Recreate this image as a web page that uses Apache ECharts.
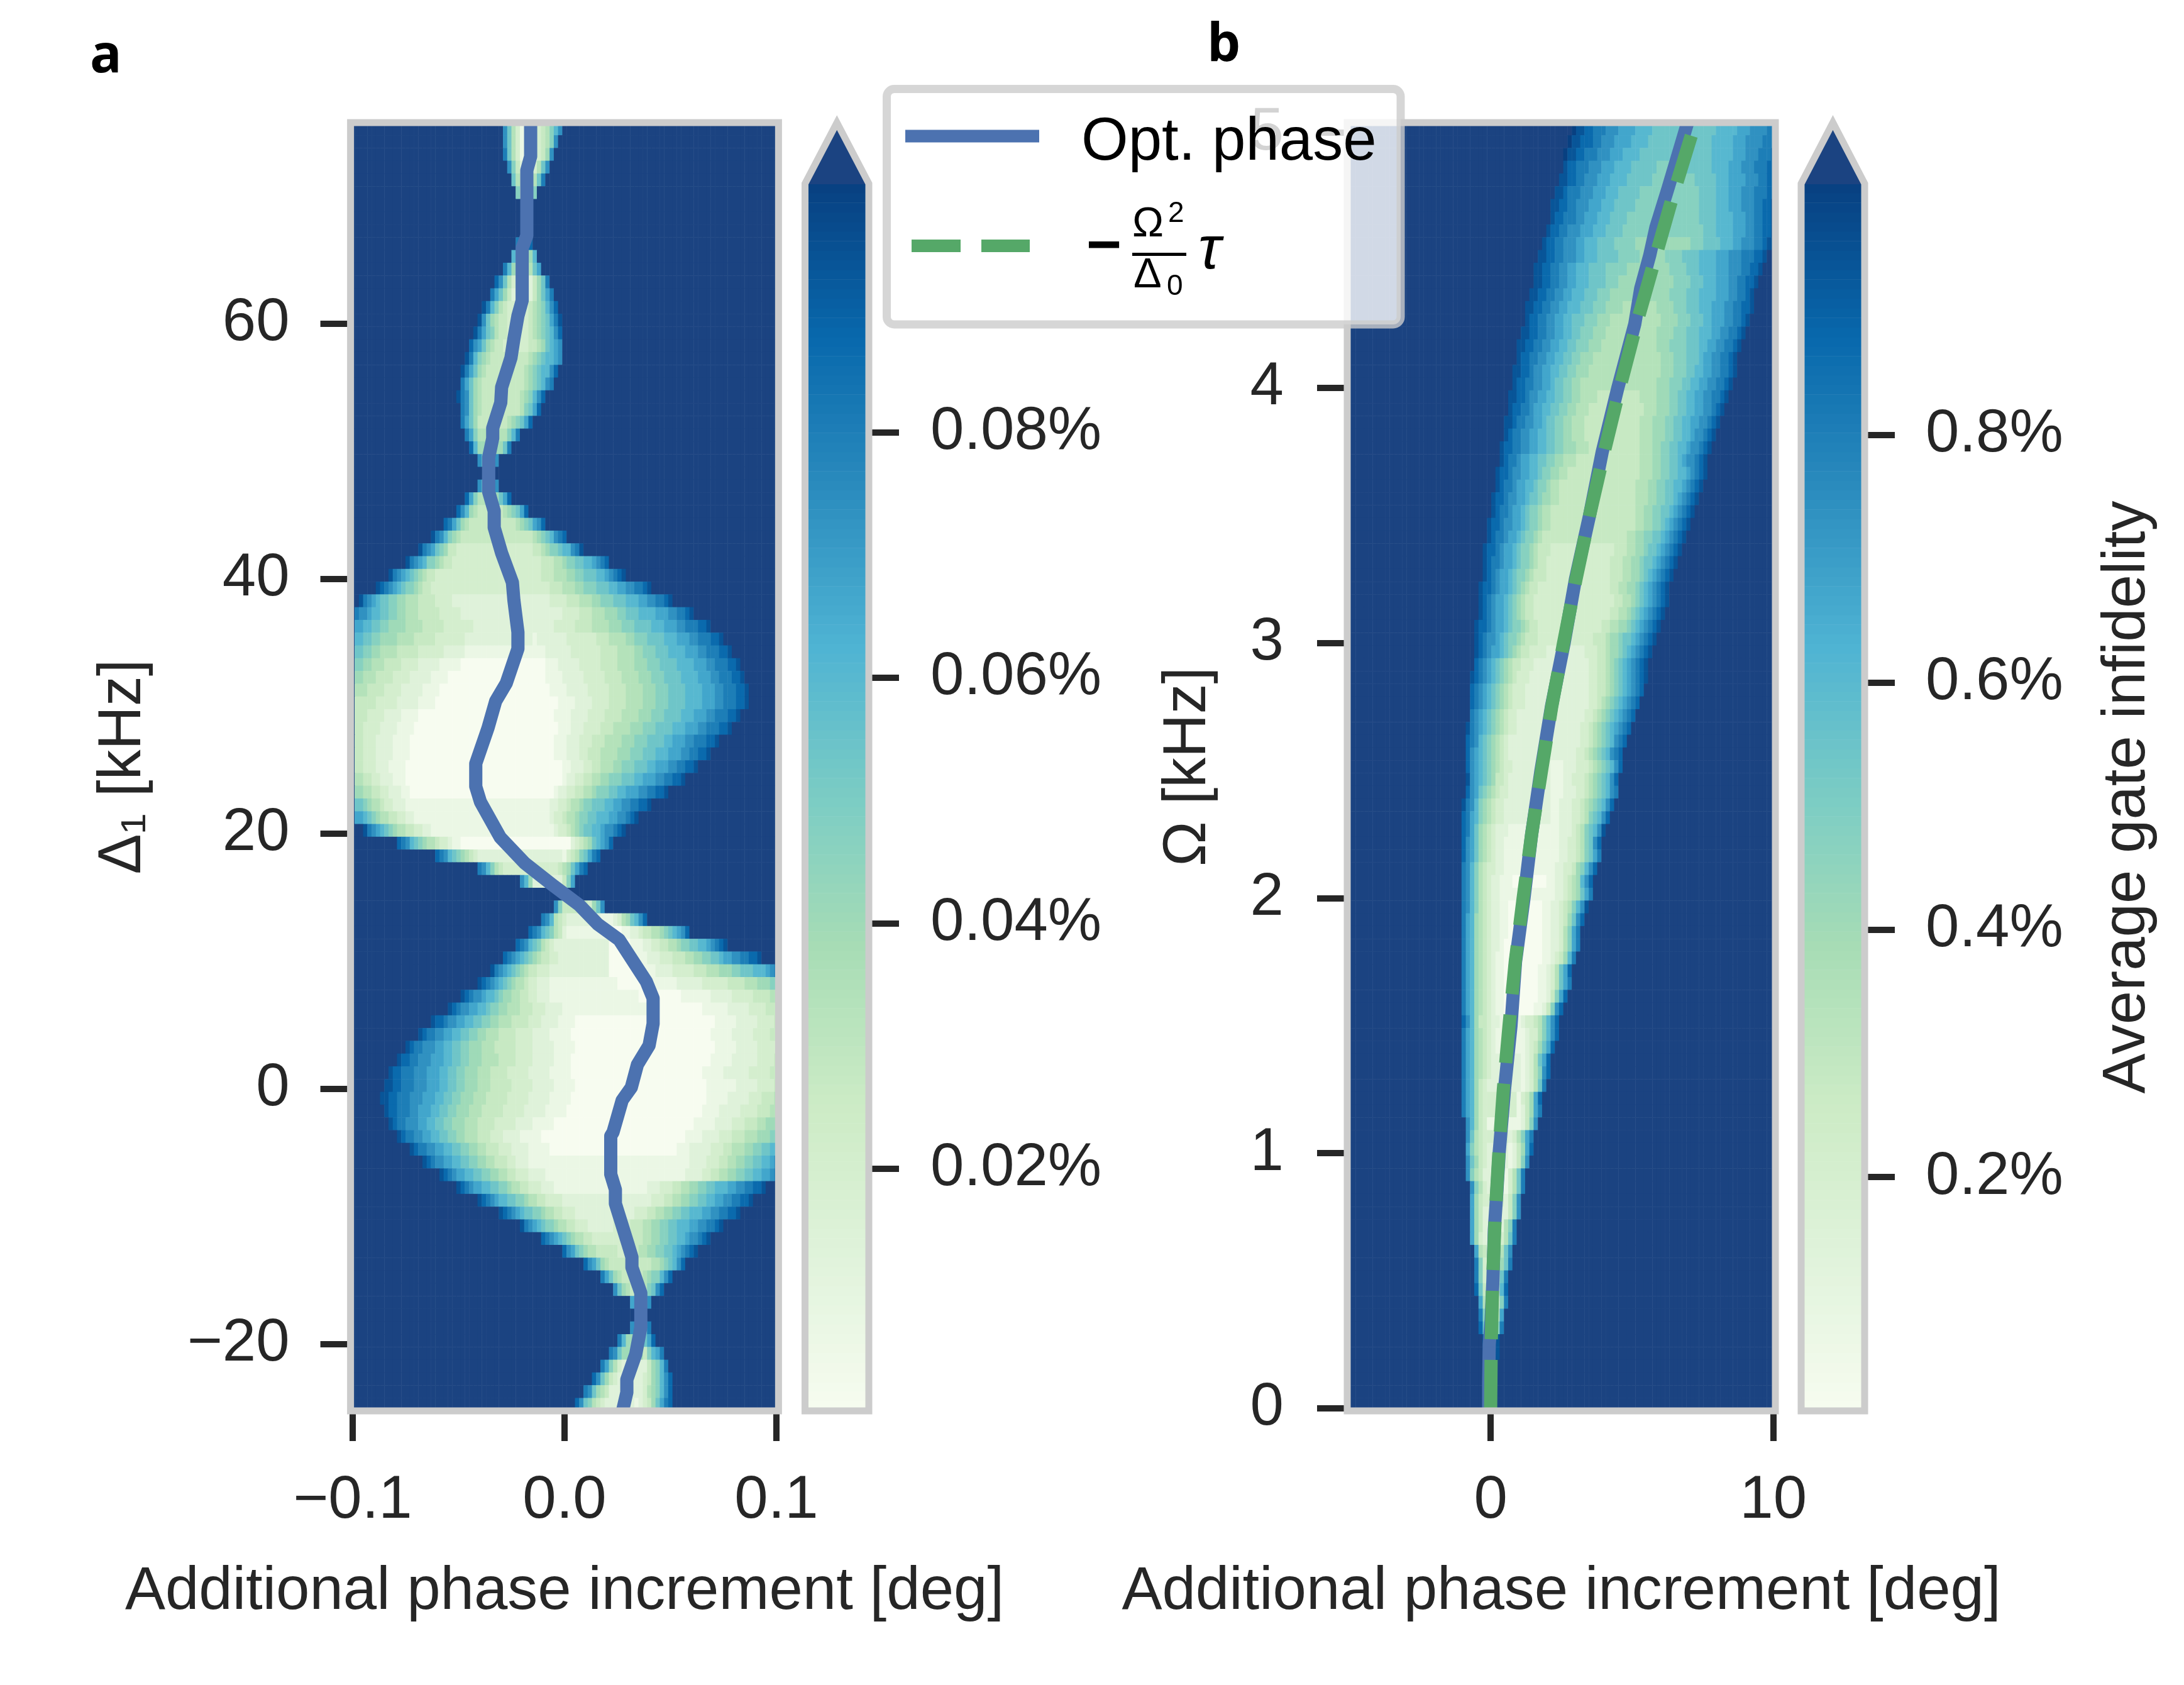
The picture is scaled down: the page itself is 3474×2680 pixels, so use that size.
<!DOCTYPE html>
<html>
<head>
<meta charset="utf-8">
<title>Average gate infidelity</title>
<script src="https://cdn.jsdelivr.net/npm/echarts@6/dist/echarts.min.js"></script>
<style>
html, body { margin: 0; padding: 0; background: #fff; }
#chart { width: 3474px; height: 2680px; }
</style>
</head>
<body>
<div id="chart"></div>
<script>
// colour ramp and saturated colour of the two colorbars
var rampColors = ['#f7fcf0', '#e0f3db', '#ccebc5', '#a8ddb5', '#7bccc4', '#4eb3d3', '#2b8cbe', '#0868ac', '#084081'];
var overColor = '#1b4381';

// panel a: Delta_1 rows -25..75 kHz, phase columns -0.1..0.1 deg in 101 steps
var aScaleMin = 0, aScaleMax = 0.1;
// each row, from the top: first column, last column, levels (hex, 0-f of the scale) read
// inwards from the left edge, levels up to the right edge; the plateau between repeats the left end
var aRows = [
[36,49,'b8531','134579b'],[36,48,'b8531','13457b'],[36,47,'c8531','1346b'],[37,46,'b7421','2358b'],[38,45,'8531','258c'],
[39,43,'73','47'],null,null,null,[39,42,'c8','8d'],[38,43,'96','369'],[36,44,'c963','358a'],[34,46,'db8531','2468c'],
[33,47,'ca8642','2468ac'],[31,48,'ec97543','345679bd'],[30,49,'eb865443','3345678ace'],[29,49,'eca875443','33456789bd'],
[28,49,'dba8654433','33445689ab'],[27,49,'ec976544','444567899ab'],[26,48,'eca86544','44567899bd'],[26,47,'ca865444','4456789bc'],
[25,45,'ecb865444','45679bd'],[26,44,'cb8654','4578ad'],[26,42,'ca864','5678ad'],[27,39,'ca75','579c'],[28,37,'d96','68c'],
[30,34,'b8','8b'],null,[30,34,'b8','8b'],[27,37,'da75','68ad'],[25,41,'db9654','5678ad'],[22,45,'dca86544','45678abd'],
[19,50,'ecb976544','4456789bcd'],[16,54,'ecba8764433','3445677899bce'],[13,60,'ecba97765443','3444556778899abcd'],
[9,64,'ecba98765443','33444555667788899abcde'],[6,70,'edcba9877654433','33334445556677788899aabbccde'],
[2,75,'ecba988776655544443333222','222333344455566777888999aabbccde'],
[1,80,'cbba9988776655544444333332222','2222223333444555666778889999aaabbccde'],
[1,84,'aa99887766665555444443333333222','2222233333444455556667778888999aaabbcccdde'],
[1,87,'998877666655554444433333332222222','1222222233333334445555667778888999aaabbcccdde'],
[1,89,'887766555544444333333222221111','1111222222333333344445555667778889999aaabbcccdde'],
[1,91,'77665554444333322222111110','11122222333334444555566677788889999aaabbcccdde'],
[1,92,'66555444433332222211110','111122222333334444555566677788889999aaabbcccdde'],
[1,93,'5554444333322222111100','0111122222333334444555566677788889999aaabbcccdde'],
[1,93,'4444433333222221111000','01111222233334444555566677788889999aaabbcccdde'],
[1,91,'4443333222211110000','0111122223333444455556667778888999aaabbcccdde'],
[1,89,'4433332222111100000','00111222333344455556667778888999aaabbcccdde'],
[1,86,'4433322221111000','01112223334445555666777888899aaabbcccdde'],
[1,84,'443332222111100','0111222334445555666777888999aaabbccdde'],
[1,81,'4433322211110','01122233445556677788899aaabbccdde'],
[1,78,'55443322211100','01223344556677788899aaabbccdde'],
[1,74,'665544332221100','12233445567778899aaabbccdde'],
[1,70,'88765543322211','1223345567788899aabbccdde'],
[1,67,'aa987655443322111','23345567788999aabbcde'],
[3,64,'ecba98765544332211','23345678899abbcde'],
[11,61,'dcb9876554332110','2345689abd'],
[20,58,'dcb98765432','134578acd'],
[30,55,'cb97543','34568acd'],
[40,52,'b962','47a'],null,[48,59,'b74','368b'],
[45,69,'cb95432','111235689bd'],
[42,79,'dcb9875421','0001122344556789abd'],
[39,88,'dcb98754322','00000111223344556778899abcde'],
[36,96,'dcba9876544332','000000111222333444556677889aabbccdde'],
[33,100,'ecba98765443332','0000000111122223333344455566677888999abc'],
[30,100,'edcba98765543322211','00000000111111222222333333444455566677'],
[26,100,'edcbba9987665544332221111','000000000011111112222233333444455'],
[23,100,'edcbbaa998776655544433322221111','0000000000111111222223333444'],
[19,100,'eddcbbaa9988776655544443332222111100','0000000000111112222233334'],
[16,100,'edccbbaa99887766555444433332222111110','000000001111122222333344'],
[13,100,'edccbbbaa99887766655544444333322222111110','0000000111112222233333'],
[11,100,'eddccbbbaaa9988776665555444433332222211110','000001111122222233334'],
[9,100,'eddcccbbbaaa99887766655544443333322222111110','000111112222223333344'],
[8,100,'eeddcccbbbaaa9988776665554444433333222221111100','0000011111112222233334'],
[7,100,'eeddcccbbbaaa9988776665554444433333222221111100','00000011111222223334445'],
[8,100,'eddcccbbaaa998877666555444443333322222111110','0000111122222333344455'],
[9,100,'edccbbbaa99887766655544443333322221111100','00011111222233344455666'],
[11,100,'edccbbaa998877665554443332222111110','0001111222233344455566677'],
[14,100,'edccbbaa99887766554443332222111110','111222223334455566778899'],
[17,100,'edcbbaa9988776655444332221111','1112222333445566778899ab'],
[21,100,'edcbaa99887766554433322221111','11222233445566778899aabc'],
[25,97,'edcbaa9988776554433322211','112223334455667788999aabbccdde'],
[30,94,'edcba99887765544333322','2222333445566778899aabbccdde'],
[35,91,'edcba9887765544333222','2223334455667788999aabbccdde'],
[40,87,'ecba9877655443332','333344455667788999aabbccde'],
[45,84,'dcba98765544333','3334445566778899abbcde'],
[50,81,'dba87655444','33344556677889abcde'],
[55,78,'dba8654','44556789bd'],
[59,75,'ca8654','456779bd'],
[62,73,'b8654','578bd'],
[66,70,'a7','7b'],null,[66,70,'b7','8c'],[63,71,'c96','58ad'],[61,73,'cb86','479ac'],[59,74,'ca7532','4679c'],
[57,75,'db86432','34679bd'],[55,75,'cb86542','235679bd'],[53,75,'db8754322','123468acd']
];
var aOptPhase = [-0.016,-0.016,-0.0178,-0.0178,-0.02,-0.02,-0.022,-0.0239,-0.0253,-0.0297,-0.0301,-0.0339,-0.0339,-0.0358,-0.0358,-0.0332,-0.0332,-0.0297,-0.0246,-0.0239,
  -0.022,-0.022,-0.0275,-0.0325,-0.0361,-0.0419,-0.0419,-0.0397,-0.0303,-0.0188,-0.0058,0.007,0.0157,0.0257,0.0386,0.0418,0.0418,0.0399,0.0344,0.0315,0.0272,0.0229,
  0.0218,0.0218,0.024,0.024,0.03,0.0318,0.0318,0.036,0.036,0.0336,0.0294,0.0294,0.0273];
var aOptDelta = [75.8,73.1,72,66.9,65.9,61.8,60.6,58.8,57.3,55,53.8,51.8,51,49.5,46.8,45.3,44,42,39.7,38.3,
  35.8,34.5,31.8,30.4,28.3,25.5,23.7,22.5,19.7,17.7,16,14.4,12.9,11.7,8.4,7.1,5.1,3.4,1.9,0.1,-0.9,-3.4,
  -3.7,-6.7,-7.9,-9,-12.2,-13.2,-14,-16,-18.7,-20.8,-22.8,-23.8,-25.3];

// panel b: Omega rows 0..5 kHz, phase columns -5..10 deg in 101 steps
var bScaleMin = 0.0076, bScaleMax = 1;
var bRows = [
[53,100,'feeddcccbbbaaaa9999888888','888888899999aaabbbbcc'],[52,100,'feedddccbbbaaaa9999888888','88888899999aaabbbbccc'],
[51,100,'feeddcccbbbaaa9999888888','88888899999aaabbbcccd'],[51,100,'eddcccbbbaaa99998888887','8888889999aaabbbcccdd'],
[50,100,'eeddccbbbaaa9999888888777','7788888999aaaabbbccdd'],[49,100,'eedcccbbbaaa99988888777777','7778888999aaabbbcccdd'],
[48,100,'eeddccbbbaaa999888887777777','7778888999aaabbbccdde'],[48,100,'eddcccbbaaa9998888777777','77788889999aaabbccdde'],
[47,100,'eddccbbbaaa9998888777777','77778889999aaabbccdde'],[46,100,'eddccbbbaa999888877777666','667778888999aabbbccdee'],
[45,98,'eeddccbbbaa9998888877777666','6666777788889999aaabbbcccdde'],[44,97,'eeddccbbaa9998888777776666','66677778889999aaabbbccdde'],
[44,96,'eeddccbbaa999888877766666','6667777888999aaabbccdde'],[43,95,'eeddccbbaa99988877766666','66677778889999aaabbccde'],
[42,95,'eeddccbbaa9998887776666555','6666777888999aaabbccdde'],[42,94,'eddccbbaa998887776665555','5666677788899aaabbccde'],
[41,93,'eeddccbbaa998877766655555','56666777888999aabbccde'],[40,92,'eeddccbbaa99887776665555','55666777788899aabbccde'],
[40,91,'eddccbbaa9988776665555','5556667778889aabbccde'],[39,91,'eeddcbbaa99887766655555','5556667778899aabbccde'],
[39,90,'eddccbbaa9887766555555','5556667778899aabbccde'],[38,89,'eeddcbbaa99887766555544','5555666778899aabbccde'],
[38,88,'eddccbaa99887766555444','4555666778899aabbcde'],[37,87,'eedccbbaa9887766555444','4555666778899aabbcde'],
[37,86,'edccbbaa998877665554444','4555666778899abbcde'],[36,85,'eddccbbaa9988776665554444','4455566778899abbcde'],
[36,84,'edccbaa99887766555444','4445556677889abbcde'],[35,84,'eddcbbaa998776655444','44455566778899abcde'],
[35,83,'edccbaa99877655444','44455566778899abcde'],[34,82,'eddcbbaa9887665544444','4445556677889abcde'],
[34,81,'edccbaa987765544444','444556677889abcde'],[33,80,'eddcbbaa987765544444','444455667789abcde'],
[33,79,'edccbaa98776544444','444556677889abcde'],[32,78,'eddcbaa98776544433','3344455667889abcde'],
[32,77,'edccbaa9877654433','344455667889abcde'],[32,76,'edcbaa987765444333','34445566789abcde'],
[31,75,'eddcbaa98765443333','33445566789abcde'],[31,75,'edcbaa98765443333','33344556789abcde'],
[31,74,'edcbaa9876544333','33344556789abcde'],[30,73,'eddcbaa9877654433333','33445566789abcde'],
[30,72,'edcbba98776544433333','3334445667889abcde'],[30,71,'edcbaa9876544333322','33344566789abcde'],
[30,70,'dcba9876544333222','2334456789abcde'],[29,70,'edcba9876543332222','22334456789abcde'],
[29,69,'dcba987654333222','22334456789abcd'],[29,68,'dcba98765433322','2233456789abcd'],
[29,67,'cba9876543322222','2233456789abcd'],[28,66,'ecba98765433222','22233456789abcd'],
[28,65,'dcb98765432222','22233456789bcd'],[28,64,'dba9876543222','22233456789bcd'],
[28,64,'dba98765433222','111222333456789bd'],[28,63,'eba9876443222','11122333456789bd'],
[28,63,'dba8765433222','11122233456789bc'],[27,62,'ecb9765433222','1122233456789bd'],
[27,61,'dca9765433222','112223345789bd'],[27,60,'dca8654322211','11222345789be'],
[27,59,'dba8654322111','1122334578bd'],[27,59,'dba8654322111','1122334578ac'],
[27,58,'cb97543322111','1122334679bd'],[27,57,'cb97543221110','112234569bd'],
[27,57,'cb9754322111','112234568ac'],[27,56,'cb9754322110','112234579be'],
[27,55,'ca9654322110','11223468bd'],[27,54,'ca9654322110','1122357ac'],
[27,54,'ca9654322100','1122357ac'],[27,53,'ca9654321100','1123469c'],
[27,52,'ca9654321100','112358ad'],[27,52,'ca965432110','112358ac'],
[27,51,'ca965432110','11247ad'],[27,50,'ca965432110','11247bd'],
[27,49,'db96443221','1012334579bd'],[27,49,'ca9654321','1233579bd'],
[27,48,'ca9654321','123468ad'],[27,47,'ca965432','12358ad'],[27,47,'ca965432','12357bd'],
[27,46,'ca96432','12358c'],[27,45,'ca9643','1346ad'],[27,45,'ca9643','1246ac'],
[28,44,'b96431','1247b'],[28,43,'b8543','2357ac'],[28,43,'a75432','1246ad'],[28,42,'b86432','1247b'],
[28,41,'b7542','1358c'],[29,41,'b7532','1358c'],[29,40,'a643','247b'],[29,40,'a642','247b'],
[29,39,'a642','257c'],[29,39,'a632','358c'],[30,38,'a542','258b'],[30,38,'c73','368c'],
[30,37,'c73','38c'],[30,37,'d84','49d'],[31,37,'a5','47c'],[31,36,'c7','5a'],[31,36,'d8','7c'],
[32,35,'d9','9e'],[32,35,'e','ae'],null,null,null,null
];
var bOmega = [0,0.1,0.25,0.35,0.5,0.7,0.85,1,1.25,1.5,1.75,2,2.25,2.5,2.75,3,3.25,3.5,3.75,4,4.25,4.39,4.52,4.63,4.78,5.04];
var bOptPhase = [-0.07,-0.07,-0.05,0.02,0.08,0.13,0.22,0.3,0.49,0.72,0.88,1.18,1.45,1.78,2.15,2.6,3,3.5,3.95,4.5,5.1,5.31,5.63,5.85,6.27,6.97];
var bFormulaOmega = [0,0.25,0.5,0.75,1,1.25,1.5,1.75,2,2.25,2.5,2.75,3,3.25,3.5,3.75,4,4.25,4.5,4.75,5];
var bFormulaPhase = [0,0.02,0.07,0.16,0.29,0.45,0.65,0.87,1.15,1.45,1.8,2.16,2.58,3.02,3.5,4.02,4.57,5.16,5.8,6.44,7.13];

var aXTicks = [-0.1, 0, 0.1], aYTicks = [-20, 0, 20, 40, 60];
var bXTicks = [0, 10], bYTicks = [0, 1, 2, 3, 4, 5];
var aBarTicks = [0.02, 0.04, 0.06, 0.08], bBarTicks = [0.2, 0.4, 0.6, 0.8];
var xTitle = 'Additional phase increment [deg]';

var textColor = '#262626', spineColor = '#cccccc';
var fontFamily = '"Liberation Sans", Arial, sans-serif';
var nCols = 101, nBar = 128;

// the colour scale runs one ramp step past vmax, where the saturated colour sits
function overValue(vmin, vmax) {
    return vmin + (vmax - vmin) * 1.125;
}
// turn typed rows into heatmap cells, anything outside the band is saturated
function buildCells(rows, vmin, vmax) {
    var out = [];
    var over = overValue(vmin, vmax);
    function val(ch) { return vmin + parseInt(ch, 16) / 15 * (vmax - vmin); }
    for (var i = 0; i < rows.length; i++) {
        var yi = rows.length - 1 - i;
        var r = rows[i];
        var line = [];
        for (var c = 0; c < nCols; c++) line.push(over);
        if (r) {
            var plateau = val(r[2].charAt(r[2].length - 1));
            for (var c2 = r[0]; c2 <= r[1]; c2++) line[c2] = plateau;
            for (var k = 0; k < r[3].length; k++) line[r[1] - r[3].length + 1 + k] = val(r[3].charAt(k));
            for (var j = 0; j < r[2].length; j++) line[r[0] + j] = val(r[2].charAt(j));
        }
        for (var c3 = 0; c3 < nCols; c3++) out.push([c3, yi, line[c3]]);
    }
    return out;
}
function indexList(n) {
    var l = [];
    for (var i = 0; i < n; i++) l.push(i);
    return l;
}
function barCells(vmin, vmax) {
    var l = [];
    for (var i = 0; i < nBar; i++) l.push([0, i, vmin + (i + 0.5) / nBar * (vmax - vmin)]);
    return l;
}
function pairs(xs, ys) {
    return xs.map(function (x, i) { return [x, ys[i]]; });
}
function minusFmt(dec) {
    return function (v) { return Number(v).toFixed(dec).replace('-', '\u2212'); };
}
function hiddenCat(n, gridIndex) {
    return { type: 'category', gridIndex: gridIndex, data: indexList(n), show: false };
}
function valueAxis(o) {
    var ax = {
        type: 'value',
        gridIndex: o.grid,
        position: o.pos,
        min: o.min,
        max: o.max,
        splitLine: { show: false },
        axisLine: { show: false },
        axisTick: { show: true, customValues: o.ticks, length: 48, lineStyle: { color: textColor, width: 10 } },
        axisLabel: { show: true, customValues: o.ticks, margin: o.margin, color: textColor, fontSize: 96, fontFamily: fontFamily, formatter: o.fmt }
    };
    if (o.name) {
        ax.name = o.name;
        ax.nameLocation = 'middle';
        ax.nameGap = o.gap;
        ax.nameMoveOverlap = false;
        ax.nameTextStyle = { color: textColor, fontSize: 96, fontFamily: fontFamily };
        if (o.rotate !== undefined) ax.nameRotate = o.rotate;
    }
    return ax;
}

var grids = [
    { left: 557.6, width: 680.8, top: 195, height: 2049 },
    { left: 1280.5, width: 101.5, top: 292, height: 1952 },
    { left: 2143, width: 681, top: 195, height: 2049 },
    { left: 2865, width: 101, top: 292, height: 1952 }
];

var xAxes = [
    hiddenCat(nCols, 0),
    valueAxis({ grid: 0, pos: 'bottom', min: -0.101, max: 0.101, ticks: aXTicks, margin: 96, fmt: minusFmt(1), name: xTitle, gap: 241 }),
    hiddenCat(1, 1),
    hiddenCat(nCols, 2),
    valueAxis({ grid: 2, pos: 'bottom', min: -5.075, max: 10.075, ticks: bXTicks, margin: 96, fmt: minusFmt(0), name: xTitle, gap: 241 }),
    hiddenCat(1, 3)
];
var yAxes = [
    hiddenCat(aRows.length, 0),
    valueAxis({ grid: 0, pos: 'left', min: -25.25, max: 75.75, ticks: aYTicks, margin: 97, fmt: minusFmt(0), name: '\u0394\u2081 [kHz]', gap: 313, rotate: 90 }),
    hiddenCat(nBar, 1),
    valueAxis({ grid: 1, pos: 'right', min: 0.00026, max: 0.10026, ticks: aBarTicks, margin: 98, fmt: function (v) { return v.toFixed(2) + '%'; } }),
    hiddenCat(bRows.length, 2),
    valueAxis({ grid: 2, pos: 'left', min: -0.01, max: 5.04, ticks: bYTicks, margin: 101, fmt: minusFmt(0), name: '\u03a9 [kHz]', gap: 204, rotate: 90 }),
    hiddenCat(nBar, 3),
    valueAxis({ grid: 3, pos: 'right', min: 0.0109, max: 1.0033, ticks: bBarTicks, margin: 97, fmt: function (v) { return v.toFixed(1) + '%'; }, name: 'Average gate infidelity', gap: 371, rotate: 90 })
];

function heat(xi, yi, data) {
    return { type: 'heatmap', xAxisIndex: xi, yAxisIndex: yi, data: data, progressive: 0, emphasis: { disabled: true }, z: 1 };
}
function curve(name, xi, yi, data, color, width, dash) {
    return {
        name: name, type: 'line', xAxisIndex: xi, yAxisIndex: yi, data: data,
        showSymbol: false, smooth: false, z: 3, silent: true,
        lineStyle: { color: color, width: width, type: dash || 'solid', cap: 'butt', join: 'round' }
    };
}

var series = [
    heat(0, 0, buildCells(aRows, aScaleMin, aScaleMax)),
    heat(2, 2, barCells(aScaleMin, aScaleMax)),
    heat(3, 4, buildCells(bRows, bScaleMin, bScaleMax)),
    heat(5, 6, barCells(bScaleMin, bScaleMax)),
    curve('Opt. phase', 1, 1, pairs(aOptPhase, aOptDelta), '#4c72b0', 21),
    curve('Opt. phase', 4, 5, pairs(bOptPhase, bOmega), '#4c72b0', 21),
    curve('formula', 4, 5, pairs(bFormulaPhase, bFormulaOmega), '#55a868', 21, [77, 33])
];

// spines, colorbar arrows, panel letters and the legend box sit on top of the plots
function frame(g) {
    return { type: 'rect', z: 50, silent: true, shape: { x: g.left, y: g.top, width: g.width, height: g.height }, style: { fill: 'none', stroke: spineColor, lineWidth: 11 } };
}
function arrow(g, tipY) {
    var l = g.left, r = g.left + g.width, m = g.left + g.width / 2, b = g.top + g.height, t = g.top;
    return [
        { type: 'polygon', z: 49, silent: true, shape: { points: [[l, t + 1], [m, tipY], [r, t + 1]] }, style: { fill: overColor } },
        { type: 'polygon', z: 50, silent: true, shape: { points: [[l, b], [l, t], [m, tipY], [r, t], [r, b]] }, style: { fill: 'none', stroke: spineColor, lineWidth: 11, lineJoin: 'miter', miterLimit: 10 } }
    ];
}
function label(text, x, y, size, extra) {
    var st = { text: text, x: x, y: y, fill: '#000', font: (extra || '') + ' ' + size + 'px ' + fontFamily, textAlign: 'left', textVerticalAlign: 'middle' };
    return { type: 'text', z: 62, silent: true, style: st };
}
var graphics = [frame(grids[0]), frame(grids[2])]
    .concat(arrow(grids[1], 195), arrow(grids[3], 195))
    .concat([
        { type: 'text', z: 62, silent: true, style: { text: 'a', x: 143, y: 91, fill: '#000', font: 'bold 84px "Open Sans", "Noto Sans", sans-serif', textVerticalAlign: 'middle' } },
        { type: 'text', z: 62, silent: true, style: { text: 'b', x: 1920, y: 73, fill: '#000', font: 'bold 84px "Open Sans", "Noto Sans", sans-serif', textVerticalAlign: 'middle' } },
        { type: 'rect', z: 60, silent: true, shape: { x: 1410.5, y: 141.5, width: 817.5, height: 374.5, r: 12 }, style: { fill: 'rgba(255,255,255,0.8)', stroke: 'rgba(204,204,204,0.8)', lineWidth: 13 } },
        { type: 'line', z: 62, silent: true, shape: { x1: 1440, y1: 216.5, x2: 1653, y2: 216.5 }, style: { stroke: '#4c72b0', lineWidth: 20 } },
        { type: 'line', z: 62, silent: true, shape: { x1: 1450, y1: 391, x2: 1638, y2: 391 }, style: { stroke: '#55a868', lineWidth: 20, lineDash: [78, 33] } },
        label('Opt. phase', 1720, 228, 96),
        label('\u2212', 1728, 395, 96, 'bold'),
        label('\u03a9', 1801, 358, 67),
        label('2', 1858, 340, 46),
        { type: 'rect', z: 62, silent: true, shape: { x: 1801, y: 402, width: 86, height: 5 }, style: { fill: '#000' } },
        label('\u0394', 1803, 439, 67),
        label('0', 1856, 456, 46),
        label('\u03c4', 1906, 400, 96, 'italic')
    ]);

var chart = echarts.init(document.getElementById('chart'));
var option = {
    animation: false,
    backgroundColor: '#fff',
    grid: grids,
    xAxis: xAxes,
    yAxis: yAxes,
    visualMap: [
        { type: 'continuous', show: false, seriesIndex: [0, 1], min: aScaleMin, max: overValue(aScaleMin, aScaleMax), inRange: { color: rampColors.concat(overColor) } },
        { type: 'continuous', show: false, seriesIndex: [2, 3], min: bScaleMin, max: overValue(bScaleMin, bScaleMax), inRange: { color: rampColors.concat(overColor) } }
    ],
    series: series,
    graphic: { elements: graphics }
};
chart.setOption(option);
</script>
</body>
</html>
